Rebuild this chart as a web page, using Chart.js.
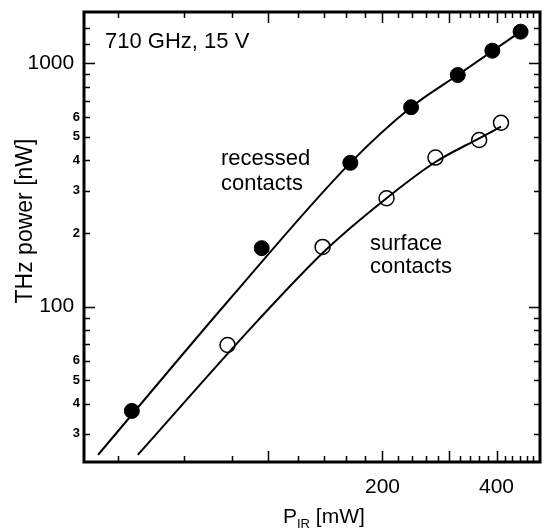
<!DOCTYPE html>
<html>
<head>
<meta charset="utf-8">
<script src="https://cdn.jsdelivr.net/npm/chart.js@4.4.0/dist/chart.umd.min.js"></script>
<style>
  html, body { margin: 0; padding: 0; background: #fff; }
  #wrap { width: 549px; height: 529px; }
</style>
</head>
<body>
<div id="wrap"><canvas id="thzPower" width="549" height="529"></canvas></div>
<script>
// measured points: P_IR [mW] vs THz power [nW]
const recessedIR  = [43.6, 96, 164.5, 238, 316, 390, 463];
const recessedTHz = [37.3, 174, 390, 660, 895, 1127, 1349];
const surfaceIR   = [78, 139, 205, 276, 360, 411];
const surfaceTHz  = [69.6, 176, 279, 410, 484, 570];

// fit curves
const recessedFitIR  = [35.5, 78.7, 164.5, 238, 316, 463];
const recessedFitTHz = [24.6, 106.5, 390, 660, 895, 1349];
const surfaceFitIR   = [45.2, 93.2, 141.7, 205, 276, 360, 411];
const surfaceFitTHz  = [24.6, 86.8, 171, 279, 393, 491.8, 548.9];

// axis ticks
const xTicks = [40, 60, 80, 100, 120, 140, 160, 180, 200, 220, 240, 260, 280, 300,
                320, 340, 360, 380, 400, 420, 440, 460, 480, 500];
const xMajor = [100, 200, 300, 400];
const xTickLabels = {200: '200', 400: '400'};
const yTicks = [30, 40, 50, 60, 70, 80, 90, 100, 200, 300, 400, 500, 600, 700, 800, 900,
                1000, 1200, 1400];
const yMajor = [100, 1000];
const yTickLabels = {30: '3', 40: '4', 50: '5', 60: '6', 100: '100',
                     200: '2', 300: '3', 400: '4', 500: '5', 600: '6', 1000: '1000'};

const FONT = '"Liberation Sans", Arial, Helvetica, sans-serif';

function pairs(xs, ys) {
  return xs.map((x, i) => ({x: x, y: ys[i]}));
}

// frame, inward ticks and the free text
const frameAndText = {
  id: 'frameAndText',
  afterDraw(chart) {
    const ctx = chart.ctx;
    const a = chart.chartArea;
    const sx = chart.scales.x, sy = chart.scales.y;
    ctx.save();
    ctx.strokeStyle = '#000';
    ctx.lineWidth = 1.5;
    ctx.beginPath();
    xTicks.forEach(v => {
      const px = Math.round(sx.getPixelForValue(v)) + 0.5;
      const len = xMajor.includes(v) ? 11 : 6;
      ctx.moveTo(px, a.bottom); ctx.lineTo(px, a.bottom - len);
      ctx.moveTo(px, a.top); ctx.lineTo(px, a.top + len);
    });
    yTicks.forEach(v => {
      const py = Math.round(sy.getPixelForValue(v)) + 0.5;
      const len = yMajor.includes(v) ? 11 : 6;
      ctx.moveTo(a.left, py); ctx.lineTo(a.left + len, py);
      ctx.moveTo(a.right, py); ctx.lineTo(a.right - len, py);
    });
    ctx.stroke();

    ctx.lineWidth = 3;
    ctx.strokeRect(a.left, a.top, a.right - a.left, a.bottom - a.top);

    ctx.fillStyle = '#000';
    ctx.textBaseline = 'alphabetic';
    ctx.textAlign = 'left';
    ctx.font = '22px ' + FONT;
    ctx.fillText('710 GHz, 15 V', 105, 48);
    ctx.fillText('recessed', 221, 165);
    ctx.fillText('contacts', 221, 190);
    ctx.fillText('surface', 370, 250);
    ctx.fillText('contacts', 370, 273);

    // x title with subscript
    let x = 283;
    ctx.font = '21px ' + FONT;
    ctx.fillText('P', x, 523);
    x += ctx.measureText('P').width;
    ctx.font = '13px ' + FONT;
    ctx.fillText('IR', x, 528);
    x += ctx.measureText('IR').width;
    ctx.font = '21px ' + FONT;
    ctx.fillText(' [mW]', x, 523);

    // y title
    ctx.translate(32, 221);
    ctx.rotate(-Math.PI / 2);
    ctx.textAlign = 'center';
    ctx.font = '23px ' + FONT;
    ctx.fillText('THz power [nW]', 0, 0);
    ctx.restore();
  }
};

const ctx = document.getElementById('thzPower').getContext('2d');
const chart = new Chart(ctx, {
  type: 'scatter',
  data: {
    datasets: [
      {
        label: 'recessed contacts',
        data: pairs(recessedIR, recessedTHz),
        showLine: false,
        pointRadius: 7.5,
        pointBackgroundColor: '#000',
        pointBorderColor: '#000',
        pointBorderWidth: 1
      },
      {
        label: 'surface contacts',
        data: pairs(surfaceIR, surfaceTHz),
        showLine: false,
        pointRadius: 7.5,
        pointBackgroundColor: 'rgba(0,0,0,0)',
        pointBorderColor: '#000',
        pointBorderWidth: 1.5
      },
      {
        label: 'recessed fit',
        data: pairs(recessedFitIR, recessedFitTHz),
        showLine: true,
        pointRadius: 0,
        borderColor: '#000',
        borderWidth: 2,
        cubicInterpolationMode: 'monotone'
      },
      {
        label: 'surface fit',
        data: pairs(surfaceFitIR, surfaceFitTHz),
        showLine: true,
        pointRadius: 0,
        borderColor: '#000',
        borderWidth: 2,
        cubicInterpolationMode: 'monotone'
      }
    ]
  },
  options: {
    responsive: false,
    animation: false,
    devicePixelRatio: 1,
    layout: { padding: { top: 12, right: 1, left: 0, bottom: 0 } },
    plugins: {
      legend: { display: false },
      tooltip: { enabled: false }
    },
    scales: {
      x: {
        type: 'logarithmic',
        min: 32.6,
        max: 521,
        grid: { display: false, drawTicks: false },
        border: { display: false },
        afterBuildTicks: s => { s.ticks = xTicks.map(v => ({value: v})); },
        afterFit: s => { s.height = 67; s.paddingLeft = 0; s.paddingRight = 0; },
        ticks: {
          autoSkip: false,
          maxRotation: 0,
          padding: 13,
          color: '#000',
          font: { family: FONT, size: 21 },
          callback: v => xTickLabels[v] || ''
        }
      },
      y: {
        type: 'logarithmic',
        min: 23,
        max: 1625,
        grid: { display: false, drawTicks: false },
        border: { display: false },
        afterBuildTicks: s => { s.ticks = yTicks.map(v => ({value: v})); },
        afterFit: s => { s.width = 84; s.paddingTop = 0; s.paddingBottom = 0; },
        ticks: {
          autoSkip: false,
          padding: 4,
          color: '#000',
          font: c => (c.tick && yMajor.includes(c.tick.value))
            ? { family: FONT, size: 21 }
            : { family: FONT, size: 13, weight: 'bold' },
          callback: v => {
            const lab = yTickLabels[v] || '';
            return yMajor.includes(v) ? lab + ' ' : lab;
          }
        }
      }
    }
  },
  plugins: [frameAndText]
});
</script>
</body>
</html>
